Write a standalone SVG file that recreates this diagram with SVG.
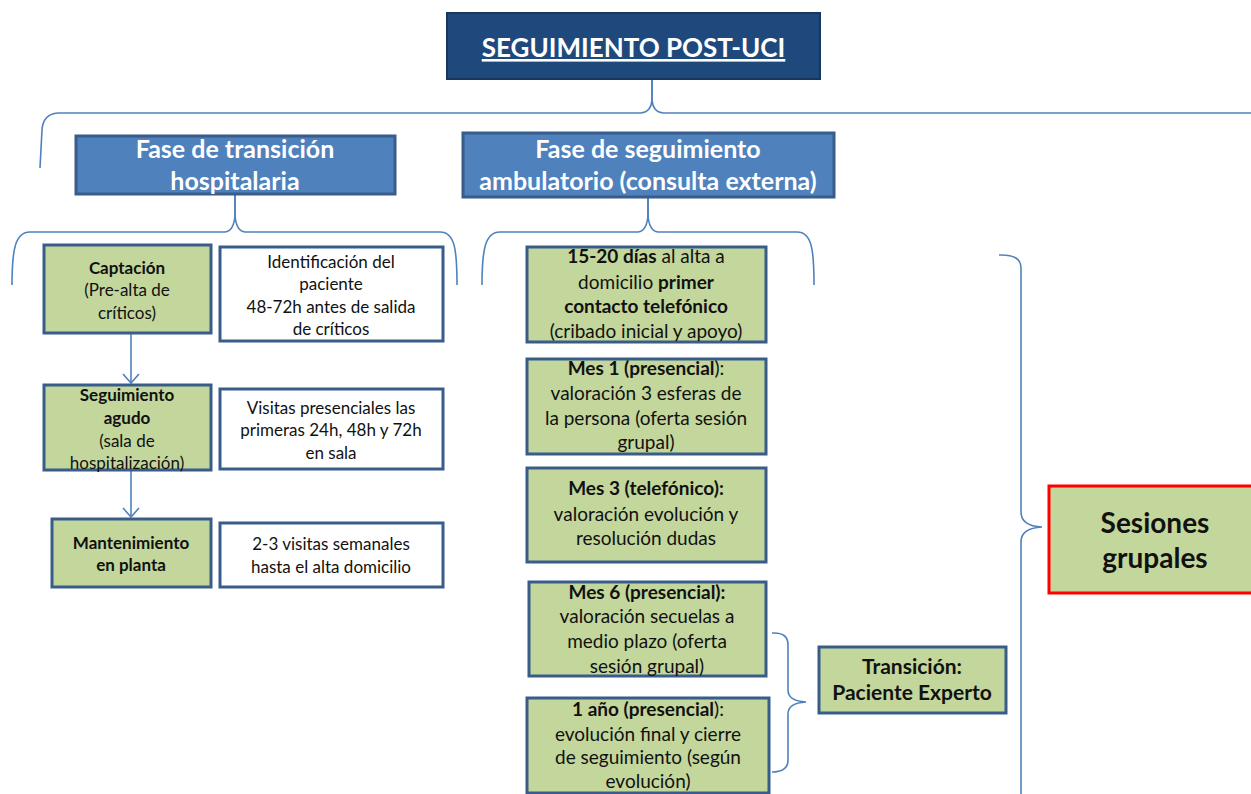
<svg xmlns="http://www.w3.org/2000/svg" width="1251" height="794" viewBox="0 0 1251 794">
<style>
text{font-family:Lato,"Liberation Sans",sans-serif;text-anchor:middle;fill:#111}
.g{fill:#C3D69B;stroke:#385D8A;stroke-width:3}
.w{fill:#fff;stroke:#385D8A;stroke-width:3}
.b{fill:#4F81BD;stroke:#385D8A;stroke-width:3}
.br{fill:none;stroke:#4F81BD;stroke-width:1.6}
.t1{font-size:17px}
.t2{font-size:19px}
.hd{font-size:25px;font-weight:bold;fill:#fff}
.bo{font-weight:bold}
</style>
<defs>
<marker id="ar" markerWidth="12" markerHeight="18" refX="10" refY="9" orient="auto" markerUnits="userSpaceOnUse" viewBox="0 0 12 18">
<polyline points="1,1 10,9 1,17" fill="none" stroke="#4F81BD" stroke-width="1.6"/>
</marker>
</defs>
<rect width="1251" height="794" fill="#fff"/>
<g id="connectors">
<path class="br" d="M652 79 L652 100 Q651 112 641 113 L58 113 Q43 114 42 130 L40 168"/>
<path class="br" d="M652 79 L652 100 Q653 112 663 113 L1251 113"/>
<path class="br" d="M12 285 C12 250 15 232 30 232 L225 232 Q234 231 235 215 L235 194"/>
<path class="br" d="M235 194 L235 215 Q236 231 245 232 L440 232 C455 232 457 250 457 285"/>
<path class="br" d="M482 285 C482 250 485 232 500 232 L638 232 Q647 231 648 215 L648 197"/>
<path class="br" d="M648 197 L648 215 Q649 231 658 232 L797 232 C812 232 814 250 814 285"/>
<path class="br" d="M772 633 Q788 632 788 645 L788 690 Q788 701 806 702 Q788 703 788 714 L788 760 Q788 772 772 772"/>
<path class="br" d="M999 255 Q1021 254 1021 268 L1021 512 Q1021 526 1042 527 Q1021 528 1021 542 L1021 794"/>
<line class="br" x1="131" y1="334" x2="131" y2="383" marker-end="url(#ar)"/>
<line class="br" x1="131" y1="471" x2="131" y2="517" marker-end="url(#ar)"/>
</g>
<g id="title">
<rect x="447" y="13" width="373" height="66" fill="#1F497D" stroke="#17375E" stroke-width="2"/>
<text x="633.5" y="57" style="font-size:26px;font-weight:bold;fill:#fff;text-decoration:underline">SEGUIMIENTO POST-UCI</text>
</g>
<g id="fase-transicion">
<rect class="b" x="76" y="136" width="319" height="58"/>
<text class="hd" x="235" y="158">Fase de transición</text>
<text class="hd" x="235" y="190">hospitalaria</text>
</g>
<g id="fase-seguimiento">
<rect class="b" x="463" y="133" width="371" height="64"/>
<text class="hd" x="648" y="158">Fase de seguimiento</text>
<text class="hd" x="648" y="190">ambulatorio (consulta externa)</text>
</g>
<g id="captacion">
<rect class="g" x="44" y="245" width="167" height="88"/>
<text class="t1" x="127"><tspan x="127" y="274" class="bo">Captación</tspan><tspan x="127" y="296">(Pre-alta de</tspan><tspan x="127" y="319">críticos)</tspan></text>
</g>
<g id="identificacion">
<rect class="w" x="220" y="247" width="223" height="94"/>
<text class="t1"><tspan x="331" y="268">Identificación del</tspan><tspan x="331" y="290">paciente</tspan><tspan x="331" y="313">48-72h antes de salida</tspan><tspan x="331" y="335">de críticos</tspan></text>
</g>
<g id="seguimiento-agudo">
<rect class="g" x="44" y="385" width="167" height="85"/>
<text class="t1"><tspan x="127" y="401" class="bo">Seguimiento</tspan><tspan x="127" y="424" class="bo">agudo</tspan><tspan x="127" y="447">(sala de</tspan><tspan x="127" y="469">hospitalización)</tspan></text>
</g>
<g id="visitas">
<rect class="w" x="220" y="389" width="223" height="80"/>
<text class="t1"><tspan x="331" y="414">Visitas presenciales las</tspan><tspan x="331" y="436">primeras 24h, 48h y 72h</tspan><tspan x="331" y="459">en sala</tspan></text>
</g>
<g id="mantenimiento">
<rect class="g" x="52" y="519" width="159" height="68"/>
<text class="t1 bo"><tspan x="131" y="549">Mantenimiento</tspan><tspan x="131" y="571">en planta</tspan></text>
</g>
<g id="semanales">
<rect class="w" x="220" y="523" width="223" height="64"/>
<text class="t1"><tspan x="331" y="550">2-3 visitas semanales</tspan><tspan x="331" y="573">hasta el alta domicilio</tspan></text>
</g>
<g id="dias15">
<rect class="g" x="527" y="247" width="239" height="95"/>
<text class="t2"><tspan x="646" y="263"><tspan class="bo">15-20 días</tspan> al alta a</tspan><tspan x="646" y="289">domicilio <tspan class="bo">primer</tspan></tspan><tspan x="646" y="313" class="bo">contacto telefónico</tspan><tspan x="646" y="338">(cribado inicial y apoyo)</tspan></text>
</g>
<g id="mes1">
<rect class="g" x="527" y="359" width="239" height="95"/>
<text class="t2"><tspan x="646" y="375"><tspan class="bo">Mes 1 (presencial</tspan>):</tspan><tspan x="646" y="400">valoración 3 esferas de</tspan><tspan x="646" y="425">la persona (oferta sesión</tspan><tspan x="646" y="449">grupal)</tspan></text>
</g>
<g id="mes3">
<rect class="g" x="527" y="468" width="239" height="94"/>
<text class="t2"><tspan x="646" y="495" class="bo">Mes 3 (telefónico):</tspan><tspan x="646" y="521">valoración evolución y</tspan><tspan x="646" y="545">resolución dudas</tspan></text>
</g>
<g id="mes6">
<rect class="g" x="529" y="582" width="237" height="94"/>
<text class="t2"><tspan x="647" y="599" class="bo">Mes 6 (presencial):</tspan><tspan x="647" y="623">valoración secuelas a</tspan><tspan x="647" y="648">medio plazo (oferta</tspan><tspan x="647" y="673">sesión grupal)</tspan></text>
</g>
<g id="anio1">
<rect class="g" x="527" y="698" width="242" height="95"/>
<text class="t2"><tspan x="648" y="716"><tspan class="bo">1 año (presencial</tspan>):</tspan><tspan x="648" y="741">evolución final y cierre</tspan><tspan x="648" y="764">de seguimiento (según</tspan><tspan x="648" y="788">evolución)</tspan></text>
</g>
<g id="transicion">
<rect class="g" x="819" y="647" width="187" height="66"/>
<text class="bo" style="font-size:21px"><tspan x="912" y="674">Transición:</tspan><tspan x="912" y="700">Paciente Experto</tspan></text>
</g>
<g id="sesiones">
<rect x="1049" y="486" width="210" height="107" fill="#C3D69B" stroke="#FF0000" stroke-width="3"/>
<text class="bo" style="font-size:28px"><tspan x="1155" y="533">Sesiones</tspan><tspan x="1155" y="568">grupales</tspan></text>
</g>
</svg>
